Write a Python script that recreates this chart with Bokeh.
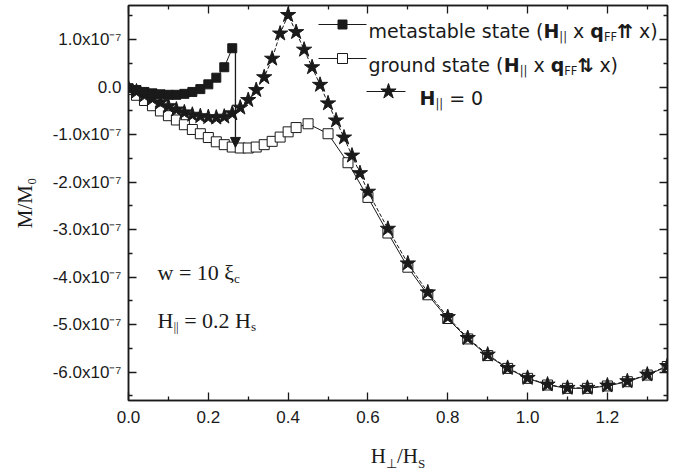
import numpy as np
from bokeh.plotting import figure
from bokeh.layouts import column
from bokeh.models import (Range1d, LinearAxis, FixedTicker, Label, Arrow, NormalHead,
                          CustomJSTickFormatter, Div)
from bokeh.embed import file_html
from bokeh.resources import INLINE

# ---------------- data (M/M0 in units of 1e-7) ----------------
meta_x = [0.00, 0.02, 0.04, 0.06, 0.08, 0.10, 0.12, 0.14, 0.16, 0.18, 0.20, 0.22, 0.24, 0.26]
meta_y = [-0.02, -0.06, -0.10, -0.13, -0.15, -0.16, -0.16, -0.14, -0.10, -0.04, 0.06, 0.20, 0.42, 0.82]

ground_x = [0.00, 0.02, 0.04, 0.06, 0.08, 0.10, 0.12, 0.14, 0.16, 0.18, 0.20, 0.22, 0.24, 0.26,
            0.28, 0.30, 0.32, 0.34, 0.36, 0.38, 0.40, 0.42, 0.45, 0.50, 0.55, 0.60, 0.65, 0.70,
            0.75, 0.80, 0.85, 0.90, 0.95, 1.00, 1.05, 1.10, 1.15, 1.20, 1.25, 1.30, 1.35]
ground_y = [-0.05, -0.17, -0.28, -0.39, -0.50, -0.60, -0.69, -0.79, -0.89, -0.98, -1.06, -1.15,
            -1.21, -1.26, -1.28, -1.28, -1.26, -1.21, -1.14, -1.05, -0.94, -0.85, -0.77, -0.98,
            -1.59, -2.32, -3.07, -3.79, -4.37, -4.87, -5.30, -5.65, -5.92, -6.13, -6.27, -6.34,
            -6.34, -6.29, -6.20, -6.06, -5.88]

star_x = [0.00, 0.02, 0.04, 0.06, 0.08, 0.10, 0.12, 0.14, 0.16, 0.18, 0.20, 0.22, 0.24, 0.26,
          0.28, 0.30, 0.32, 0.34, 0.36, 0.38, 0.40, 0.42, 0.44, 0.46, 0.48, 0.50, 0.52, 0.54,
          0.56, 0.58, 0.60, 0.65, 0.70, 0.75, 0.80, 0.85, 0.90, 0.95, 1.00, 1.05, 1.10, 1.15,
          1.20, 1.25, 1.30, 1.35]
star_y = [-0.02, -0.09, -0.17, -0.24, -0.32, -0.40, -0.47, -0.53, -0.58, -0.61, -0.63, -0.64,
          -0.62, -0.55, -0.43, -0.27, -0.06, 0.21, 0.60, 1.13, 1.52, 1.16, 0.79, 0.42, 0.05,
          -0.34, -0.70, -1.06, -1.44, -1.81, -2.20, -2.98, -3.71, -4.32, -4.84, -5.28, -5.63,
          -5.91, -6.12, -6.26, -6.33, -6.33, -6.28, -6.19, -6.05, -5.87]

arrow_x = 0.268   # transition arrow from metastable to ground state

x_ticks = [0.0, 0.2, 0.4, 0.6, 0.8, 1.0, 1.2]
x_tick_labels = ["0.0", "0.2", "0.4", "0.6", "0.8", "1.0", "1.2"]
x_minor = [0.1, 0.3, 0.5, 0.7, 0.9, 1.1, 1.3]
y_ticks = [-6, -5, -4, -3, -2, -1, 0, 1]
y_tick_labels = ["-6.0x10\u207b\u2077", "-5.0x10\u207b\u2077", "-4.0x10\u207b\u2077",
                 "-3.0x10\u207b\u2077", "-2.0x10\u207b\u2077", "-1.0x10\u207b\u2077",
                 "0.0", "1.0x10\u207b\u2077"]
y_minor = [-6.5, -5.5, -4.5, -3.5, -2.5, -1.5, -0.5, 0.5, 1.5]

X0, X1 = 0.0, 1.3506
Y0, Y1 = -6.596, 1.72

# ---------------- layout ----------------
W, H = 687, 440          # figure; a 33 px caption row below holds the x title
CAP_H = 33
FL, FR, FT, FB = 128, 667, 5, 400
INK = "#1a1a1a"
SANS = "DejaVu Sans"
TICKFONT = "Liberation Sans"
SERIF = "Liberation Serif"

p = figure(width=W, height=H, x_range=Range1d(X0, X1), y_range=Range1d(Y0, Y1),
           output_backend="svg", toolbar_location=None, x_axis_type=None, y_axis_type=None,
           min_border_left=FL, min_border_right=W - FR, min_border_top=FT,
           min_border_bottom=H - FB)
p.outline_line_color = INK
p.outline_line_width = 1.5
p.background_fill_color = "white"
p.border_fill_color = "white"

def fmt(tv, tl):
    return CustomJSTickFormatter(args=dict(tv=tv, tl=tl),
                                 code="const i = tv.indexOf(tick); return i >= 0 ? tl[i] : '';")

def style(ax, show):
    ax.major_tick_in = 8
    ax.major_tick_out = 0
    ax.minor_tick_in = 4
    ax.minor_tick_out = 0
    ax.axis_line_color = INK
    ax.axis_line_width = 1.5
    ax.major_tick_line_color = INK
    ax.major_tick_line_width = 1.3
    ax.minor_tick_line_color = INK
    ax.minor_tick_line_width = 1.3
    ax.major_label_text_font = TICKFONT
    ax.major_label_text_color = INK
    ax.major_label_text_font_size = "17px" if show else "1px"
    if not show:
        ax.major_label_standoff = 0

for loc in ["below", "above"]:
    show = loc == "below"
    ax = LinearAxis(ticker=FixedTicker(ticks=x_ticks, minor_ticks=x_minor),
                    formatter=fmt(x_ticks, x_tick_labels if show else [""] * len(x_ticks)))
    style(ax, show)
    if show:
        ax.major_label_standoff = 10
    p.add_layout(ax, loc)
for loc in ["left", "right"]:
    show = loc == "left"
    ax = LinearAxis(ticker=FixedTicker(ticks=y_ticks, minor_ticks=y_minor),
                    formatter=fmt(y_ticks, y_tick_labels if show else [""] * len(y_ticks)))
    style(ax, show)
    if show:
        ax.major_label_standoff = 7
        ax.axis_label = "M/M\u2080"
        ax.axis_label_text_font = SERIF
        ax.axis_label_text_font_size = "21px"
        ax.axis_label_text_font_style = "normal"
        ax.axis_label_text_color = INK
        ax.axis_label_standoff = 13
    p.add_layout(ax, loc)

# ---------------- series ----------------
p.line(ground_x, ground_y, line_color=INK, line_width=1)
p.scatter(ground_x, ground_y, marker="square", size=10, fill_color="white",
          line_color=INK, line_width=1)
p.line(star_x, star_y, line_color=INK, line_width=1, line_dash="4 2")
p.scatter(star_x, star_y, marker="star", size=16, fill_color=INK, line_color=INK)
p.line(meta_x, meta_y, line_color=INK, line_width=1)
p.scatter(meta_x, meta_y, marker="square", size=9, fill_color=INK, line_color=INK)

arrow_end = float(np.interp(arrow_x, ground_x, ground_y))
p.add_layout(Arrow(x_start=arrow_x, y_start=meta_y[-1], x_end=arrow_x, y_end=arrow_end,
                   line_color=INK, line_width=1.3,
                   end=NormalHead(size=10, fill_color=INK, line_color=INK)))

# ---------------- text helpers ----------------
W_SANS = {'m': .974, 'e': .615, 't': .392, 'a': .613, 's': .521, 'b': .635, 'l': .278,
          ' ': .318, '(': .390, ')': .390, 'x': .592, 'g': .635, 'r': .411, 'o': .612,
          'u': .634, 'n': .634, 'd': .635, '=': .838, '0': .636, '|': .337, 'F': .575,
          'H': .752, 'q': .635, '\u21c8': .838, '\u21c5': .838}
W_SANS_B = {'H': .837, 'q': .716, '\u21c8': .838, '\u21c5': .838}
W_SERIF = {'M': .889, '/': .278, '0': .5, 'w': .722, ' ': .25, '=': .564, '1': .5, '2': .5,
           '.': .25, '\u03be': .44, 'c': .444, 'H': .722, '|': .2, 's': .389, 'S': .556}

def run_w(text, size, table):
    return sum(table.get(c, 0.6) for c in text) * size

def put_runs(px, py, parts, font, size, reg, bold=None):
    pos = 0.0
    for text, rel, isb, shift in parts:
        s = size * rel
        tab = (bold or reg) if isb else reg
        lead = len(text) - len(text.lstrip(" "))
        shown = text.strip(" ")
        x, y = px + pos + run_w(" " * lead, s, tab), py + shift * size
        if shown:
            p.add_layout(Label(x=x - FL, y=FB - y, x_units="screen", y_units="screen",
                               text=shown, text_font=font, text_font_size=f"{s:.1f}px",
                               text_font_style="bold" if isb else "normal",
                               text_align="left", text_baseline="alphabetic",
                               text_color=INK))
        pos += run_w(text, s, tab)

def px2x(px):
    return X0 + (px - FL) / (FR - FL) * (X1 - X0)

def py2y(py):
    return Y1 - (py - FT) / (FB - FT) * (Y1 - Y0)

# ---------------- legend ----------------
LEG = 19
rows = [
    (24, "square", INK, 9, 318, 366, 342, 368,
     [("metastable state (", 1, False, 0), ("H", 1, True, 0), ("||", .6, False, .3),
      (" x ", 1, False, 0), ("q", 1, True, 0), ("FF", .6, False, .3),
      ("\u21c8", 1, True, 0), (" x)", 1, False, 0)]),
    (58, "square", "white", 10, 318, 366, 342, 368,
     [("ground state (", 1, False, 0), ("H", 1, True, 0), ("||", .6, False, .3),
      (" x ", 1, False, 0), ("q", 1, True, 0), ("FF", .6, False, .3),
      ("\u21c5", 1, True, 0), (" x)", 1, False, 0)]),
    (91, "star", INK, 16, 366, 405, 388, 419,
     [("H", 1, True, 0), ("||", .6, False, .3), (" = 0", 1, False, 0)]),
]
for cy, mk, fill, sz, l0, l1, mx, tx, parts in rows:
    p.line([px2x(l0), px2x(l1)], [py2y(cy), py2y(cy)], line_color=INK, line_width=1)
    p.scatter([px2x(mx)], [py2y(cy)], marker=mk, size=sz, fill_color=fill, line_color=INK)
    put_runs(tx, cy + 6.8, parts, SANS, LEG, W_SANS, W_SANS_B)

# ---------------- annotations ----------------
put_runs(157, 272, [("w = 10 \u03be", 1, False, 0), ("c", .6, False, .25)], SERIF, 22, W_SERIF)
put_runs(157, 320, [("H", 1, False, 0), ("||", .6, False, .25), (" = 0.2 H", 1, False, 0),
                    ("s", .6, False, .25)], SERIF, 22, W_SERIF)

# ---------------- x axis title (caption row under the figure) ----------------
xc = (FL + FR) / 2
caption = Div(
    text=(f'<div style="width:200px;margin-left:{xc - 100:.0f}px;text-align:center;'
          f'font-family:\'{SERIF}\';font-size:21px;line-height:24px;padding-top:4px;'
          f'color:{INK}">H<sub style="font-size:13px">\u22a5</sub>/H'
          f'<sub style="font-size:13px">S</sub></div>'),
    width=W, height=CAP_H, margin=0)

layout = column(p, caption, spacing=0)
open("out.html", "w").write(file_html(layout, INLINE))
